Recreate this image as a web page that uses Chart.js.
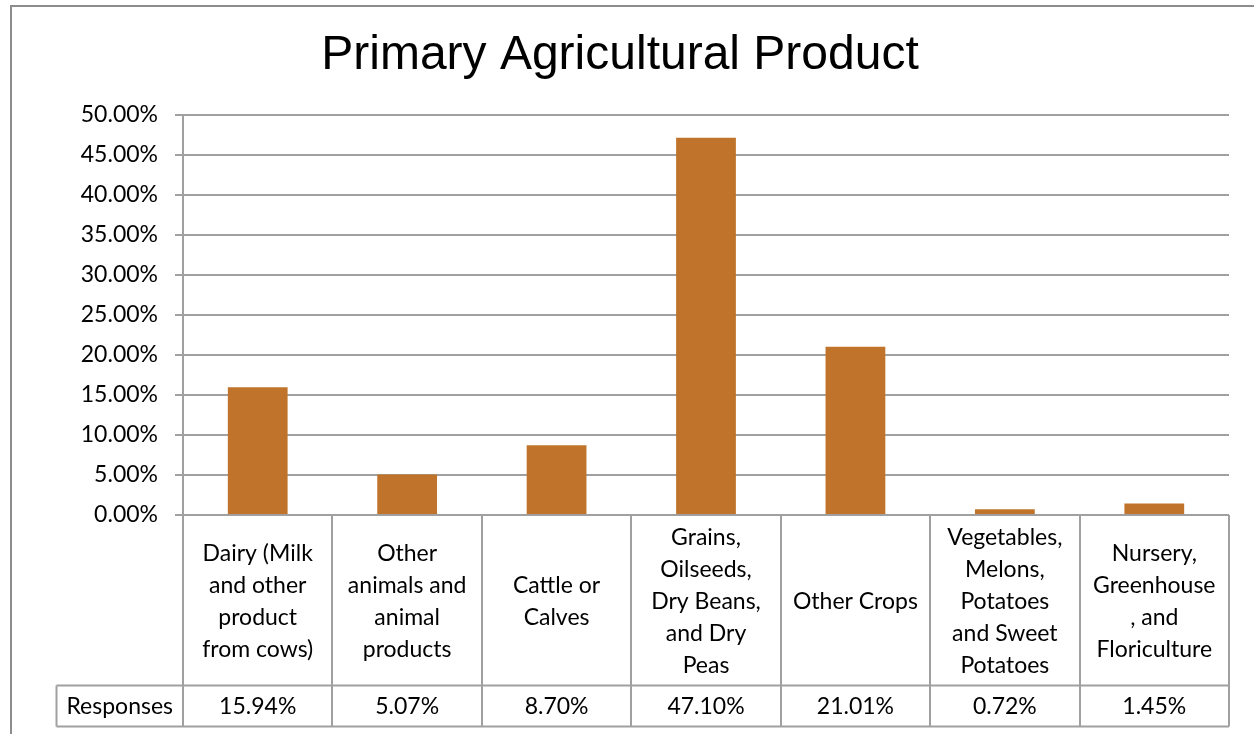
<!DOCTYPE html>
<html>
<head>
<meta charset="utf-8">
<script src="https://cdn.jsdelivr.net/npm/chart.js@4"></script>
<style>
  html, body { margin: 0; padding: 0; background: #fff; }
  #wrap { width: 1254px; height: 734px; position: relative; }
</style>
</head>
<body>
<div id="wrap"><canvas id="c" width="1254" height="734"></canvas></div>
<script>
const chartTitle = 'Primary Agricultural Product';
const seriesName = 'Responses';
const categories = [
  ['Dairy (Milk', 'and other', 'product', 'from cows)'],
  ['Other', 'animals and', 'animal', 'products'],
  ['Cattle or', 'Calves'],
  ['Grains,', 'Oilseeds,', 'Dry Beans,', 'and Dry', 'Peas'],
  ['Other Crops'],
  ['Vegetables,', 'Melons,', 'Potatoes', 'and Sweet', 'Potatoes'],
  ['Nursery,', 'Greenhouse', ', and', 'Floriculture']
];
const responses = [15.94, 5.07, 8.70, 47.10, 21.01, 0.72, 1.45];
const yMin = 0, yMax = 50, yStep = 5;

const LABEL_FONT = '23px Lato';
const GRID = '#a0a0a0';

const tablePlugin = {
  id: 'tablePlugin',
  afterDraw(chart) {
    const ctx = chart.ctx;
    const x = chart.scales.x;
    const area = chart.chartArea;
    const n = categories.length;
    const half = (x.getPixelForValue(1) - x.getPixelForValue(0)) / 2;
    const top = area.bottom;
    const rowSep = top + 170.5;
    const bottom = top + 211.5;
    const leftCell = 56.5;
    ctx.save();
    ctx.strokeStyle = GRID;
    ctx.lineWidth = 2;
    for (let i = 0; i <= n; i++) {
      const px = Math.round(i < n ? x.getPixelForValue(i) - half : x.getPixelForValue(n - 1) + half);
      ctx.beginPath(); ctx.moveTo(px, top); ctx.lineTo(px, bottom); ctx.stroke();
    }
    ctx.beginPath(); ctx.moveTo(leftCell, rowSep); ctx.lineTo(area.right, rowSep); ctx.stroke();
    ctx.beginPath(); ctx.moveTo(leftCell, bottom); ctx.lineTo(area.right, bottom); ctx.stroke();
    ctx.beginPath(); ctx.moveTo(leftCell, rowSep); ctx.lineTo(leftCell, bottom); ctx.stroke();
    ctx.fillStyle = '#000';
    ctx.font = LABEL_FONT;
    ctx.textAlign = 'center';
    ctx.textBaseline = 'middle';
    const lh = 32;
    const midCat = (top + rowSep) / 2 + 1;
    categories.forEach((lines, i) => {
      const cx = x.getPixelForValue(i);
      const start = midCat - (lines.length - 1) * lh / 2;
      lines.forEach((t, j) => ctx.fillText(t, cx, start + j * lh));
    });
    const midVal = (rowSep + bottom) / 2 + 1;
    responses.forEach((v, i) => {
      ctx.fillText(v.toFixed(2) + '%', x.getPixelForValue(i), midVal);
    });
    ctx.fillText(seriesName, (leftCell + area.left) / 2, midVal);
    ctx.strokeStyle = '#8c8c8c';
    ctx.lineWidth = 2;
    ctx.beginPath();
    ctx.moveTo(11, 740); ctx.lineTo(11, 6); ctx.lineTo(1260, 6);
    ctx.stroke();
    ctx.restore();
  }
};

new Chart(document.getElementById('c'), {
  type: 'bar',
  data: {
    labels: categories,
    datasets: [{
      label: seriesName,
      data: responses,
      backgroundColor: '#C0742B',
      borderWidth: 0,
      barPercentage: 0.4,
      categoryPercentage: 1.0
    }]
  },
  options: {
    responsive: false,
    animation: false,
    layout: { padding: { left: 11, right: 25, top: 0, bottom: 0 } },
    plugins: {
      legend: { display: false },
      tooltip: { enabled: false },
      title: {
        display: true,
        text: chartTitle,
        color: '#000',
        font: { family: 'Liberation Sans', size: 48, weight: 'normal' },
        padding: { top: 27, bottom: 30 }
      }
    },
    scales: {
      x: {
        ticks: { display: false },
        grid: { display: false },
        border: { display: false },
        afterFit(scale) { scale.height = 219; }
      },
      y: {
        min: yMin, max: yMax,
        ticks: {
          stepSize: yStep,
          color: '#000',
          font: { family: 'Lato', size: 23 },
          padding: 17,
          callback: v => v.toFixed(2) + '%'
        },
        grid: { color: GRID, lineWidth: 2, tickLength: 8 },
        border: { display: true, color: GRID, width: 2 },
        afterFit(scale) { scale.width = 172; }
      }
    }
  },
  plugins: [tablePlugin]
});
</script>
</body>
</html>
